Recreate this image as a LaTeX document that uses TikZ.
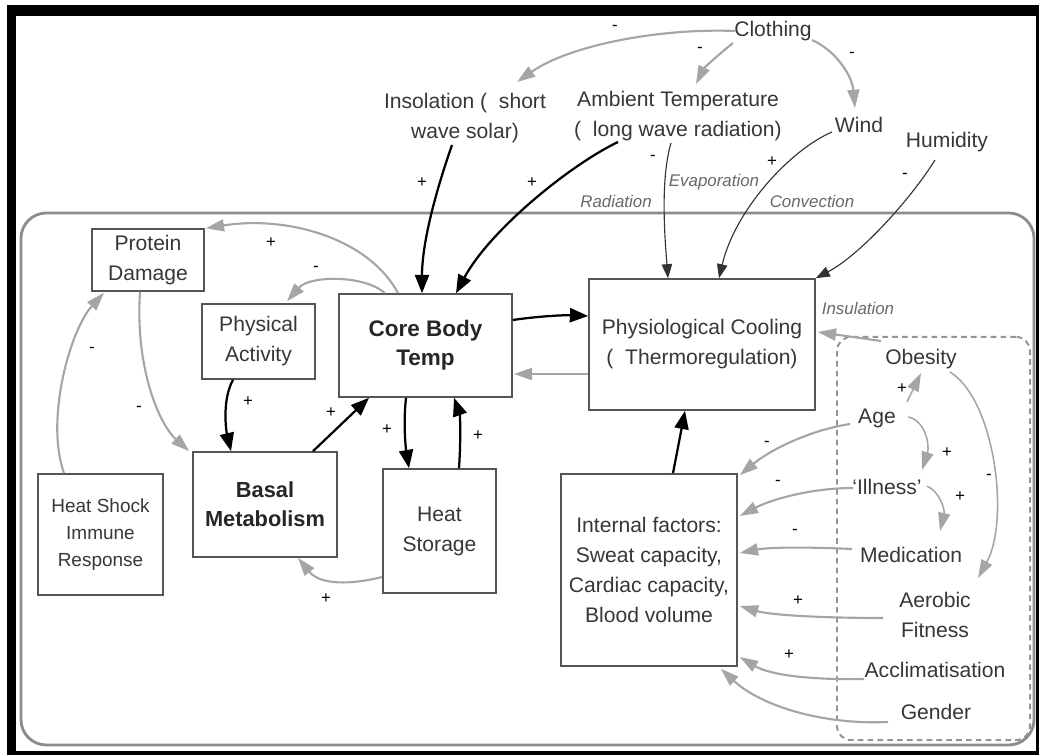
\documentclass[tikz,border=0pt]{standalone}
\usepackage{fontspec}
\setmainfont{Liberation Sans}
\usetikzlibrary{arrows.meta, calc}
\definecolor{txtgray}{RGB}{55,55,55}
\definecolor{boxgray}{RGB}{85,85,85}
\definecolor{linkgray}{RGB}{165,165,165}
\definecolor{framegray}{RGB}{140,140,140}
\definecolor{labgray}{RGB}{105,105,105}

\tikzset{
  factor/.style={draw=boxgray, line width=1.1pt, fill=white, align=center, text=txtgray,
    font=\fontsize{15}{21.3}\selectfont, inner sep=0pt},
  keybox/.style={factor, text=black!85, font=\fontsize{16}{20.6}\selectfont\bfseries},
  ext/.style={align=center, text=txtgray, font=\fontsize{15}{21.3}\selectfont, inner sep=1pt},
  mech/.style={text=labgray, font=\fontsize{12}{14}\selectfont\itshape},
  sgn/.style={text=black, font=\fontsize{12}{13}\selectfont, inner sep=0pt},
  strong/.style={draw=black, line width=1.6pt, -{Triangle[length=13pt,width=10pt]}},
  weak/.style={draw=black!80, line width=0.8pt, -{Triangle[length=10pt,width=7.5pt]}},
  soft/.style={draw=linkgray, line width=1.5pt, -{Triangle[length=13pt,width=8.5pt]}},
}

\begin{document}
\begin{tikzpicture}[x=0.025cm, y=-0.025cm]
  \useasboundingbox (0,0) rectangle (1039,755);

  % frame
  \fill[black] (7,5) rectangle (1039,755);
  \fill[white] (16,16) rectangle (1036,751);
  \draw[framegray, line width=2pt, rounded corners=18pt] (21,213) rectangle (1034,745);

  % personal factors group
  \node[draw=linkgray!90!black, line width=1.4pt, dash pattern=on 4pt off 3pt, rounded corners=10pt,
    minimum width=4.825cm, minimum height=10.075cm] (grp) at (933.5,538.5) {};

  % environment
  \node[ext] (cloth) at (773,31) {Clothing};
  \node[ext] (insol) at (465,118) {Insolation (~~short\\wave solar)};
  \node[ext] (amb) at (678,116) {Ambient Temperature\\(~~long wave radiation)};
  \node[ext] (wind) at (859,125) {Wind};
  \node[ext] (humid) at (947,142) {Humidity};

  \node[mech] (rad) at (616,201) {Radiation};
  \node[mech] (evap) at (714,182) {Evaporation};
  \node[mech] (conv) at (812,201) {Convection};
  \node[mech] (insul) at (858,308) {Insulation};

  % body
  \node[factor, minimum width=2.8cm, minimum height=1.55cm] (prot) at (148,260) {Protein\\Damage};
  \node[factor, minimum width=2.825cm, minimum height=1.875cm] (phys) at (258.5,341.5) {Physical\\Activity};
  \node[keybox, minimum width=4.325cm, minimum height=2.575cm] (core) at (425.5,345.5) {Core Body\\Temp};
  \node[keybox, font=\fontsize{15.5}{20.6}\selectfont\bfseries, minimum width=3.6cm, minimum height=2.625cm] (basal) at (265,504.5) {Basal\\Metabolism};
  \node[factor, font=\fontsize{13.5}{19}\selectfont, minimum width=3.125cm, minimum height=3.025cm] (shock) at (100.5,534.5) {Heat Shock\\Immune\\Response};
  \node[factor, minimum width=2.825cm, minimum height=3.1cm] (store) at (439.5,531) {Heat\\Storage};
  \node[factor, minimum width=5.65cm, minimum height=3.275cm] (cool) at (702,344.5) {Physiological Cooling\\(~~Thermoregulation)};
  \node[factor, minimum width=4.4cm, minimum height=4.8cm] (intf) at (649,570) {Internal factors:\\Sweat capacity,\\Cardiac capacity,\\Blood volume};

  \node[ext] (obes) at (921,359) {Obesity};
  \node[ext] (age) at (877,418) {Age};
  \node[ext] (ill) at (887,487) {`Illness'};
  \node[ext] (med) at (911,555) {Medication};
  \node[ext] (aer) at (935,615) {Aerobic\\Fitness};
  \node[ext] (accl) at (935,670) {Acclimatisation};
  \node[ext] (gend) at (936,712) {Gender};

  % clothing links
  \draw[soft] ($(cloth)+(-38,0)$) .. controls (660,28) and (570,45) .. ($(insol)+(52,-36)$);
  \draw[soft] ($(cloth)+(-40,12)$) .. controls (718,55) and (704,68) .. ($(amb)+(18,-32)$);
  \draw[soft] ($(cloth)+(39,9)$) .. controls (835,50) and (852,75) .. ($(wind)+(-4,-17)$);

  % weather into the body
  \draw[strong] ($(insol)+(-13,27)$) .. controls (438,185) and (422,240) .. ($(core.north)+(-3.5,0)$);
  \draw[strong] ($(amb)+(-60,26)$) .. controls (570,165) and (490,230) .. ($(core.north)+(30.5,0)$);
  \draw[weak] ($(amb)+(-7,27)$) .. controls (660,180) and (665,240) .. ($(cool.north)+(-34,0)$);
  \draw[weak] ($(wind)+(-27,7)$) .. controls (790,150) and (735,210) .. ($(cool.north)+(17,0)$);
  \draw[weak] ($(humid)+(-12,18)$) .. controls (910,200) and (860,255) .. (cool.north east);

  % core loops
  \draw[soft] ($(core.north)+(-27.5,0)$) .. controls (370,240) and (290,215) .. ($(prot.north east)+(1,0)$);
  \draw[soft] ($(core.north)+(-40.5,0)$) .. controls (365,275) and (310,275) .. ($(phys.north)+(28.5,-2)$);
  \draw[soft] ($(prot.south)+(-8,0)$) .. controls (135,370) and (160,425) .. ($(basal.north west)+(-3,0)$);
  \draw[soft] ($(shock.north)+(-36.5,0)$) .. controls (45,420) and (70,330) .. ($(prot.south)+(-44,1)$);
  \draw[strong] ($(phys.south)+(-25.5,0)$) .. controls (222,400) and (226,430) .. ($(basal.north)+(-34,0)$);
  \draw[strong] ($(basal.north)+(48,0)$) -- ($(core.south)+(-56.5,0)$);
  \draw[strong] ($(core.south)+(-19.5,0)$) .. controls (403,425) and (406,450) .. ($(store.north)+(-30.5,0)$);
  \draw[strong] ($(store.north)+(19.5,0)$) .. controls (461,440) and (460,415) .. ($(core.south)+(28.5,0)$);
  \draw[soft] ($(store.west)+(0,46)$) .. controls (350,585) and (320,585) .. ($(basal.south)+(33,0)$);
  \draw[strong] ($(core.east)+(0,-25.5)$) .. controls (540,316) and (565,315) .. ($(cool.west)+(0,-28.5)$);
  \draw[soft] ($(cool.west)+(0,29.5)$) -- ($(core.east)+(1,28.5)$);
  \draw[strong] ($(intf.north)+(24,0)$) -- ($(cool.south)+(-17,0)$);
  \draw[soft] ($(grp.north west)+(45,5)$) -- ($(cool.east)+(2,-12.5)$);

  % personal factors
  \draw[soft, line width=1.1pt] ($(age)+(30,-16)$) -- ($(obes)+(0,14)$);
  \draw[soft, line width=1.1pt] ($(age)+(31,-1)$) .. controls (925,420) and (930,445) .. ($(ill)+(35,-17)$);
  \draw[soft, line width=1.1pt] ($(ill)+(40,-1)$) .. controls (940,492) and (945,510) .. ($(med)+(29,-24)$);
  \draw[soft, line width=1.1pt] ($(obes)+(29,13)$) .. controls (995,400) and (1010,520) .. ($(aer)+(43,-37)$);
  \draw[soft] ($(age)+(-27,6)$) .. controls (810,430) and (770,450) .. ($(intf.north east)+(2,2)$);
  \draw[soft] ($(ill)+(-34,1)$) .. controls (810,488) and (770,500) .. ($(intf.east)+(2,-54)$);
  \draw[soft] ($(med)+(-59,-6)$) .. controls (810,547) and (770,547) .. ($(intf.east)+(2,-17)$);
  \draw[soft] ($(aer)+(-52,3)$) .. controls (820,618) and (770,615) .. ($(intf.east)+(2,36)$);
  \draw[soft] ($(accl)+(-71,9)$) .. controls (810,680) and (770,675) .. ($(intf.east)+(2,87)$);
  \draw[soft] ($(gend)+(-48,10)$) .. controls (820,725) and (760,705) .. ($(intf.south east)+(-17,2)$);

  % polarity signs
  \foreach \x/\y/\s [count=\i] in {615/28/-, 700/50/-, 852/55/-, 422/183/+, 532/183/+, 653/158/-,
      772/162/+, 905/176/-, 271/243/+, 316/269/-, 92/350/-, 139/409/-, 248/402/+, 331/413/+,
      387/430/+, 478/436/+, 326/599/+, 902/389/+, 947/453/+, 989/477/-, 767/444/-, 778/483/-,
      960/497/+, 795/532/-, 798/601/+, 789/655/+}
    \node[sgn] (sg\i) at (\x,\y) {\s};
\end{tikzpicture}
\end{document}
